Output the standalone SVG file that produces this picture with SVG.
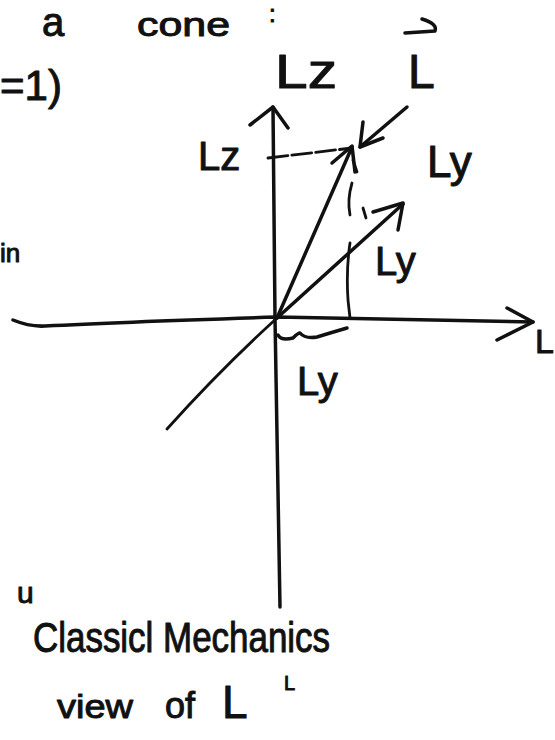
<svg xmlns="http://www.w3.org/2000/svg" width="555" height="740" viewBox="0 0 555 740">
<style>
.ink{fill:none;stroke:#111;stroke-width:3.5;stroke-linecap:round;stroke-linejoin:round}
.thin{fill:none;stroke:#111;stroke-width:2.8;stroke-linecap:round;stroke-linejoin:round}
.t{font-family:"Liberation Sans","DejaVu Sans",sans-serif;fill:#111;stroke:#111;stroke-width:1;stroke-linejoin:round}
</style>
<rect width="555" height="740" fill="#fff"/>
<g id="title">
<text class="t" x="42" y="36" font-size="40">a</text>
<text class="t" x="137" y="36" font-size="34" textLength="93" lengthAdjust="spacingAndGlyphs">cone</text>
<text class="t" x="269" y="22" font-size="24">:</text>
</g>
<g id="margin-left">
<text class="t" x="0" y="100" font-size="42">=1)</text>
<text class="t" x="0" y="262" font-size="26">in</text>
</g>
<g id="connectors">
<path class="ink" d="M13,320 Q30,327 45,326 Q120,322 277,317 L533,322"/>
<polyline class="ink" points="507,308 533,322 497,340"/>
<path class="ink" d="M273,107 L275,318 L280,607"/>
<polyline class="ink" points="250,125 273,107 288,128"/>
<path class="thin" d="M277,318 Q220,370 167,429"/>
<line class="ink" x1="277" y1="318" x2="352" y2="147"/>
<polyline class="ink" points="332,163 352,146 355,172"/>
<line class="ink" x1="277" y1="318" x2="403" y2="204"/>
<polyline class="ink" points="373,212 403,203 398,230"/>
<path class="thin" d="M268,158 L352,148" stroke-dasharray="20 4"/>
<line class="ink" x1="407" y1="107" x2="360" y2="147"/>
<polyline class="ink" points="363,122 360,147 383,138"/>
<path class="thin" d="M353,160 L357,172"/>
<path class="thin" d="M352,183 Q347,200 350,215"/>
<path class="thin" d="M363,208 L366,218"/>
<path class="thin" d="M350,243 Q346,270 348,300 L350,318"/>
<path class="ink" d="M278,335 Q281,341 293,338 Q298,333 300,333 Q305,339 317,337 Q330,333 347,328"/>
<path class="ink" d="M405,33 L435,31 Q438,24 422,19"/>
</g>
<g id="label-Lz-top"><text class="t" x="275" y="88" font-size="48" textLength="62" lengthAdjust="spacingAndGlyphs">Lz</text></g>
<g id="label-L-top"><text class="t" x="408" y="88" font-size="48">L</text></g>
<g id="label-Ly-right"><text class="t" x="427" y="177" font-size="44">Ly</text></g>
<g id="label-Lz-left"><text class="t" x="198" y="170" font-size="40">Lz</text></g>
<g id="label-Ly-mid"><text class="t" x="375" y="275" font-size="40">Ly</text></g>
<g id="label-Ly-below"><text class="t" x="297" y="395" font-size="40">Ly</text></g>
<g id="label-L-axis"><text class="t" x="535" y="353" font-size="34">L</text></g>
<g id="caption">
<text class="t" x="17" y="603" font-size="30">u</text>
<text class="t" x="33" y="652" font-size="42" textLength="297" lengthAdjust="spacingAndGlyphs">Classicl Mechanics</text>
<text class="t" x="57" y="718" font-size="34" textLength="76" lengthAdjust="spacingAndGlyphs">view</text>
<text class="t" x="165" y="718" font-size="36">of</text>
<text class="t" x="222" y="718" font-size="46">L</text>
<text class="t" x="284" y="690" font-size="20">L</text>
</g>
</svg>
